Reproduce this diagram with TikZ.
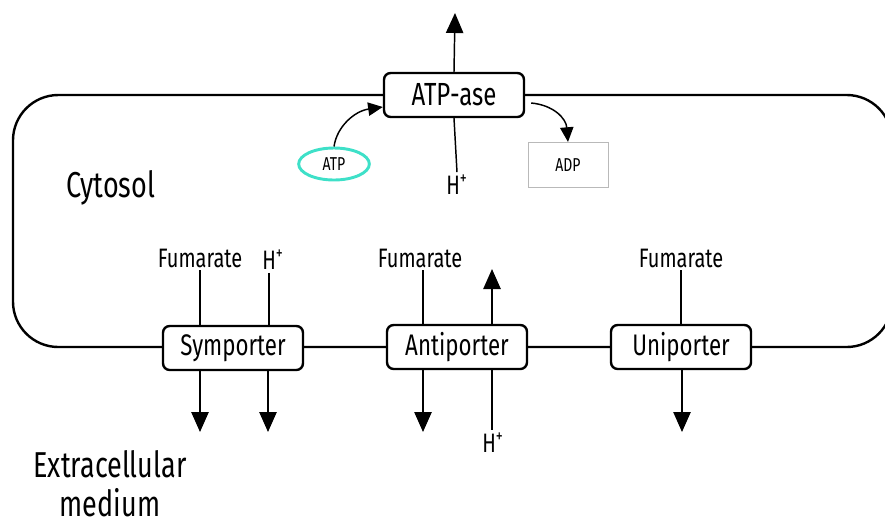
\documentclass[tikz,border=0pt]{standalone}
\usepackage{fontspec}
\setmainfont[FakeStretch=0.75]{Fira Sans}
\usetikzlibrary{arrows.meta,shapes.geometric}
\definecolor{tealc}{HTML}{3EE0C8}
\begin{document}
\begin{tikzpicture}[x=0.75pt,y=-0.75pt,
  protein/.style={draw,line width=1.8pt,rounded corners=5pt,fill=white,minimum width=105pt,minimum height=33pt,inner sep=0pt,font=\fontsize{22.3}{24}\selectfont},
  flow/.style={line width=1.1pt},
  arr/.style={flow,-{Triangle[length=15pt,width=13pt]}},
  sarr/.style={flow,-{Triangle[length=11pt,width=10pt]}},
  lbl/.style={inner sep=2pt,font=\fontsize{20}{22}\selectfont}]
\useasboundingbox (0,0) rectangle (885,526);
% membrane
\draw[line width=1.8pt,rounded corners=34pt] (13,95) rectangle (892,347);
% proteins
\node[protein,font=\fontsize{24}{26}\selectfont] (atpase) at (454,95) {ATP-ase};
\node[protein] (sym) at (233,348) {Symporter};
\node[protein] (anti) at (457,347) {Antiporter};
\node[protein] (uni) at (681,347) {Uniporter};
% ATP-ase
\coordinate (atpout) at (455,13);
\draw[arr] (atpase.north) -- (atpout);
\node[lbl] (hatp) at (457,185) {H\textsuperscript{+}};
\draw[flow] (atpase.south) -- (hatp.north);
\node[draw=tealc,line width=2.2pt,ellipse,minimum width=53pt,minimum height=24pt,inner sep=0pt,font=\fontsize{14}{16}\selectfont] (atp) at (334,164) {ATP};
\draw[sarr] (atp.north) .. controls (337,126) and (355,111) .. ([yshift=-9pt]atpase.west);
\node[draw=gray!55,line width=0.6pt,minimum width=60pt,minimum height=34pt,inner sep=0pt,font=\fontsize{14}{16}\selectfont] (adp) at (568,165) {ADP};
\draw[sarr] ([xshift=4.5pt,yshift=-6pt]atpase.east) .. controls (553,105) and (566,118) .. (adp.north);
% labels
\node[font=\fontsize{27}{30}\selectfont] (cyto) at (111,188) {Cytosol};
\node[align=center,inner sep=1pt,font=\fontsize{27}{29.5}\selectfont] (extra) at (110,484) {Extracellular\\medium};
% symporter
\node[lbl] (fs) at (200,258) {Fumarate};
\draw[flow] (fs.south) -- (fs.south|-sym.north);
\coordinate (symo1) at (200,432);
\draw[arr] (symo1|-sym.south) -- (symo1);
\node[lbl] (hs) at (273,260) {H\textsuperscript{+}};
\coordinate (hsx) at (269,0);
\draw[flow] (hsx|-hs.south) -- (hsx|-sym.north);
\coordinate (symo2) at (268,432);
\draw[arr] (symo2|-sym.south) -- (symo2);
% antiporter
\node[lbl] (fa) at (420,258) {Fumarate};
\coordinate (fax) at (423,0);
\draw[flow] (fax|-fa.south) -- (fax|-anti.north);
\coordinate (antio1) at (423,432);
\draw[arr] (antio1|-anti.south) -- (antio1);
\coordinate (antiup) at (492,269);
\draw[arr] (antiup|-anti.north) -- (antiup);
\node[lbl] (ha) at (493,443) {H\textsuperscript{+}};
\coordinate (hax) at (492,0);
\draw[flow] (hax|-anti.south) -- (hax|-ha.north);
% uniporter
\node[lbl] (fu) at (681,258) {Fumarate};
\draw[flow] (fu.south) -- (fu.south|-uni.north);
\coordinate (unio) at (682,432);
\draw[arr] (unio|-uni.south) -- (unio);
\end{tikzpicture}
\end{document}
